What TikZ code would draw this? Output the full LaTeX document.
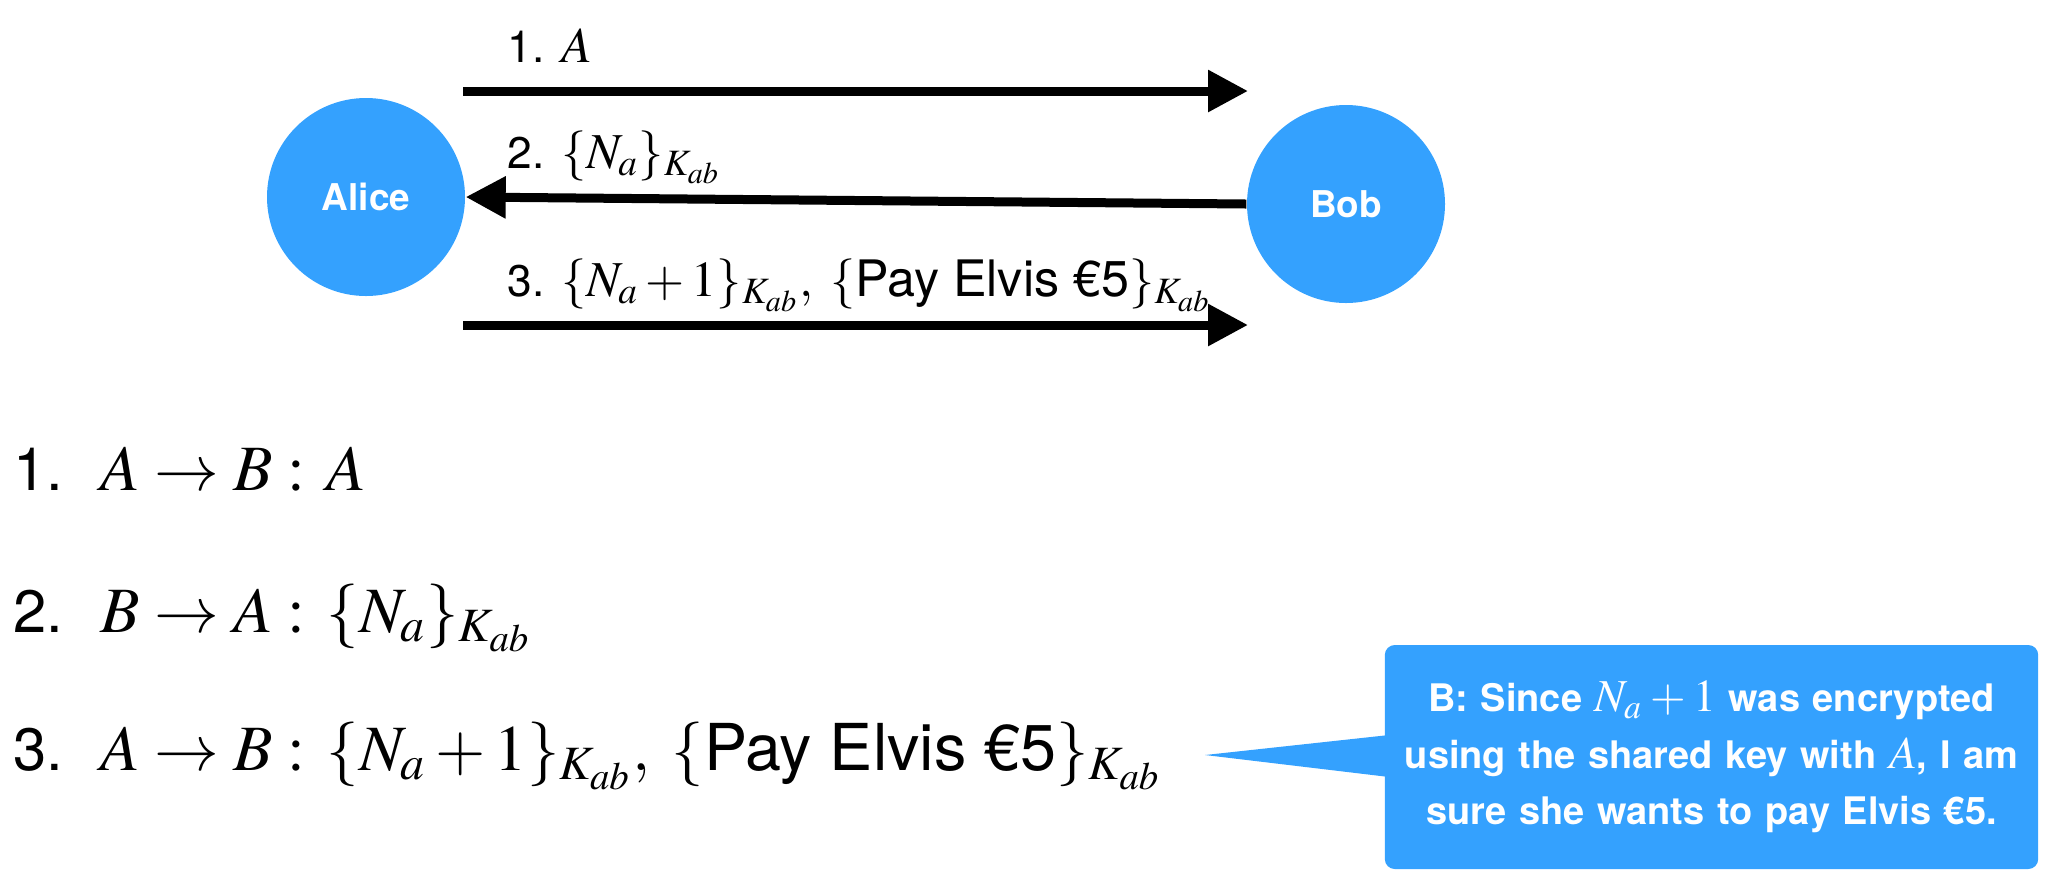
\documentclass[tikz,border=0pt]{standalone}
\usepackage{mathptmx}
\usepackage[no-math]{fontspec}
\setmainfont{TeX Gyre Heros}
\usetikzlibrary{arrows.meta,calc}
\definecolor{bubbleblue}{RGB}{52,161,254}
\newcommand{\bigmath}[2]{{\fontsize{#1}{#1}\selectfont$#2$}}
\tikzset{
	party/.style={circle, fill=bubbleblue, minimum size=1.98cm, inner sep=0pt, text=white, font=\bfseries\fontsize{10.5}{12}\selectfont},
	msgarrow/.style={line width=0.09cm, -{Triangle[length=0.4cm,width=0.4cm]}},
	msglabel/.style={anchor=base west, inner sep=0pt, font=\fontsize{12.6}{15}\selectfont},
	listline/.style={anchor=base west, inner sep=0pt, font=\fontsize{17}{20}\selectfont},
	bubble/.style={fill=bubbleblue, rounded corners=0.1cm, minimum width=6.45cm, minimum height=2.24cm, text width=6.3cm, align=center, text=white, font=\bfseries\fontsize{10.8}{16}\selectfont}
}
\begin{document}
\begin{tikzpicture}
			%%%%% START %%%%%
			\useasboundingbox (0, 0) rectangle (20.64, -8.94);
			
			\node[party] (alice) at (3.66, -1.97) {Alice};
			\node[party] (bob) at (13.46, -2.04) {Bob};
			
			\coordinate (m1s) at (4.63, -0.91);
			\coordinate (m1e) at (12.48, -0.91);
			\coordinate (m3s) at (4.63, -3.25);
			\coordinate (m3e) at (12.48, -3.25);
			
			\draw[msgarrow] (m1s) -- (m1e);
			\draw[msgarrow] (bob.west) -- (alice.east);
			\draw[msgarrow] (m3s) -- (m3e);
			
			\node[msglabel] (l1) at (5.07, -0.62) {1. \bigmath{14.3}{A}};
			\node[msglabel] (l2) at (5.07, -1.68) {2. \bigmath{14.3}{\{N_a\}_{K_{ab}}}};
			\node[msglabel] (l3) at (5.07, -2.96) {3. \bigmath{14.3}{\{N_a + 1\}_{K_{ab}},\; \{\mbox{Pay Elvis €5}\}_{K_{ab}}}};
			
			\node[listline] (s1) at (0.13, -4.90) {1.\hspace{0.25em} \bigmath{18.4}{A \rightarrow B :\, A}};
			\node[listline] (s2) at (0.13, -6.32) {2.\hspace{0.25em} \bigmath{18.4}{B \rightarrow A :\, \{N_a\}_{K_{ab}}}};
			\node[listline] (s3) at (0.13, -7.70) {3.\hspace{0.25em} \bigmath{18.4}{A \rightarrow B :\, \{N_a + 1\}_{K_{ab}},\; \{\mbox{Pay Elvis €5}\}_{K_{ab}}}};
			
			\node[bubble] (note) at (17.115, -7.57) {B: Since \bigmath{13}{N_a+1} was encrypted\\ using the shared key with \bigmath{13}{A}, I am\\ sure she wants to pay Elvis €5.};
			\coordinate (tip) at (12.05, -7.55);
			\fill[bubbleblue] ($(note.west)+(0.05, 0.22)$) -- (tip) -- ($(note.west)+(0.05, -0.2)$) -- cycle;
			
			%%%%% END %%%%%
		\end{tikzpicture}
\end{document}
